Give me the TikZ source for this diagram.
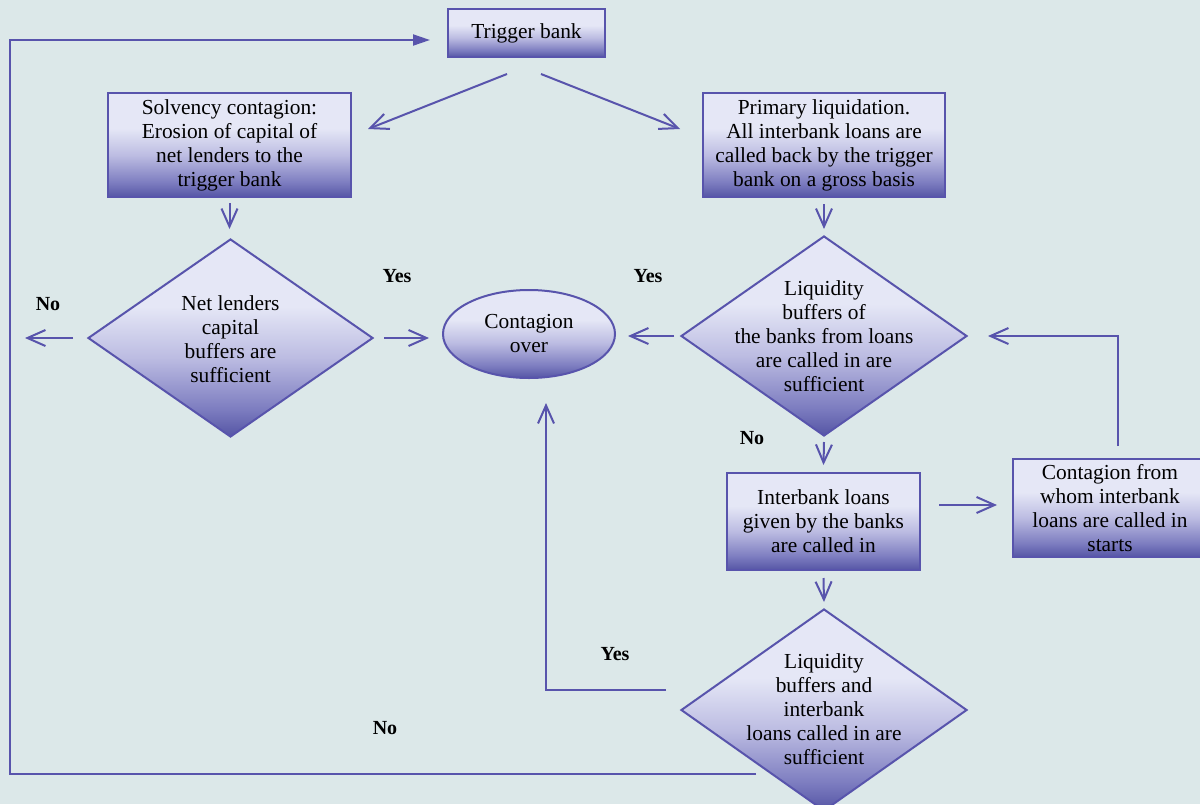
\documentclass[tikz,border=0pt]{standalone}
\usepackage{fontspec}
\setmainfont{Liberation Serif}
\usetikzlibrary{arrows.meta,shapes.geometric}
\definecolor{bg}{RGB}{220,232,233}
\definecolor{ln}{RGB}{88,84,172}
\definecolor{sA}{RGB}{85,85,165}
\definecolor{sB}{RGB}{125,125,192}
\definecolor{sC}{RGB}{188,188,226}
\definecolor{sD}{RGB}{229,231,246}
\pgfdeclareverticalshading{fshade}{100bp}{color(0bp)=(sA); color(25bp)=(sA); color(32bp)=(sB); color(45bp)=(sC); color(58bp)=(sD); color(75bp)=(sD); color(100bp)=(sD)}
\tikzset{
  fshape/.style={draw=ln, line width=1pt, shading=fshade, inner sep=0pt},
  box/.style={fshape, rectangle, align=center, font=\fontsize{10.7}{12}\selectfont},
  dia/.style={fshape, diamond},
  oval/.style={fshape, ellipse, align=center, font=\fontsize{10.7}{12}\selectfont},
  dtext/.style={align=center, inner sep=0pt, font=\fontsize{10.7}{12}\selectfont},
  lab/.style={font=\fontsize{10}{12}\selectfont\bfseries, inner sep=0pt},
  arr/.style={draw=ln, line width=1pt, -{Straight Barb[length=9pt,width=8pt]}},
  arrF/.style={draw=ln, line width=1pt, -{Triangle[length=8.5pt,width=5.5pt]}},
}
\begin{document}
\begin{tikzpicture}[x=0.5pt,y=-0.5pt]
\fill[bg] (0,0) rectangle (1200,804);
\clip (0,0) rectangle (1200,804);
% nodes
\node[box, minimum width=78.5pt, minimum height=24pt] (tb) at (526.5,33) {Trigger bank};
\node[box, minimum width=121.5pt, minimum height=52pt] (sol) at (229.5,145) {Solvency contagion:\\Erosion of capital of\\net lenders to the\\trigger bank};
\node[box, minimum width=121pt, minimum height=52pt] (prim) at (824,145) {Primary liquidation.\\All interbank loans are\\called back by the trigger\\bank on a gross basis};
\node[dia, minimum width=142.5pt, minimum height=99pt] (d1) at (230.5,338) {};
\node[dtext] (d1t) at (230.5,339) {Net lenders\\capital\\buffers are\\sufficient};
\node[oval, minimum width=86pt, minimum height=44pt] (ell) at (529,334) {Contagion\\over};
\node[dia, minimum width=143pt, minimum height=100pt] (d2) at (824,336) {};
\node[dtext] (d2t) at (824,336) {Liquidity\\buffers of\\the banks from loans\\are called in are\\sufficient};
\node[box, minimum width=96.5pt, minimum height=48.5pt] (ib) at (823.5,521.5) {Interbank loans\\given by the banks\\are called in};
\node[box, minimum width=97pt, minimum height=49pt] (cf) at (1110,508) {Contagion from\\whom interbank\\loans are called in\\starts};
\node[dia, minimum width=143pt, minimum height=101pt] (d3) at (824,710) {};
\node[dtext] (d3t) at (824,709) {Liquidity\\buffers and\\interbank\\loans called in are\\sufficient};
% labels
\node[lab] (l1) at (48,304) {No};
\node[lab] (l2) at (397,276) {Yes};
\node[lab] (l3) at (648,276) {Yes};
\node[lab] (l4) at (752,438) {No};
\node[lab] (l5) at (615,654) {Yes};
\node[lab] (l6) at (385,728) {No};
% free ends
\coordinate (noend) at (25,338);
\coordinate (cTL) at (10,40);
% connectors
\draw[arr] ([xshift=-9.75pt,yshift=-8pt]tb.south) -- ([xshift=8pt,yshift=-18.5pt]sol.north east);
\draw[arr] ([xshift=7.25pt,yshift=-8pt]tb.south) -- ([xshift=-11pt,yshift=-18.5pt]prim.north west);
\draw[arr] ([yshift=-2.5pt]sol.south) -- ([yshift=4.5pt]sol.south |- d1.north);
\draw[arr] ([xshift=-7pt]d1.west) -- (noend);
\draw[arr] ([xshift=5pt]d1.east) -- ([xshift=-6.5pt]ell.west |- d1.east);
\draw[arr] ([yshift=-3pt]prim.south) -- ([yshift=3pt]d2.north);
\draw[arr] ([xshift=-3pt]d2.west) -- ([xshift=6pt]ell.east |- d2.west);
\draw[arr] ([yshift=-2.5pt]d2.south) -- ([yshift=3.5pt]ib.north);
\draw[arr] ([xshift=9pt,yshift=8.25pt]ib.east) -- ([xshift=-7.5pt,yshift=1.5pt]cf.west);
\draw[arr] ([xshift=4pt,yshift=6pt]cf.north) |- ([xshift=10pt]d2.east);
\draw[arr] ([yshift=-3.5pt]ib.south) -- ([yshift=3pt]d3.north);
\draw[arr] ([xshift=-7pt,yshift=10pt]d3.west) -| ([xshift=8.5pt,yshift=-12pt]ell.south);
\draw[arrF] ([xshift=-34pt,yshift=-32pt]d3.center) -| (cTL) -- ([xshift=-8.5pt,yshift=-3.5pt]tb.west);
\end{tikzpicture}
\end{document}
